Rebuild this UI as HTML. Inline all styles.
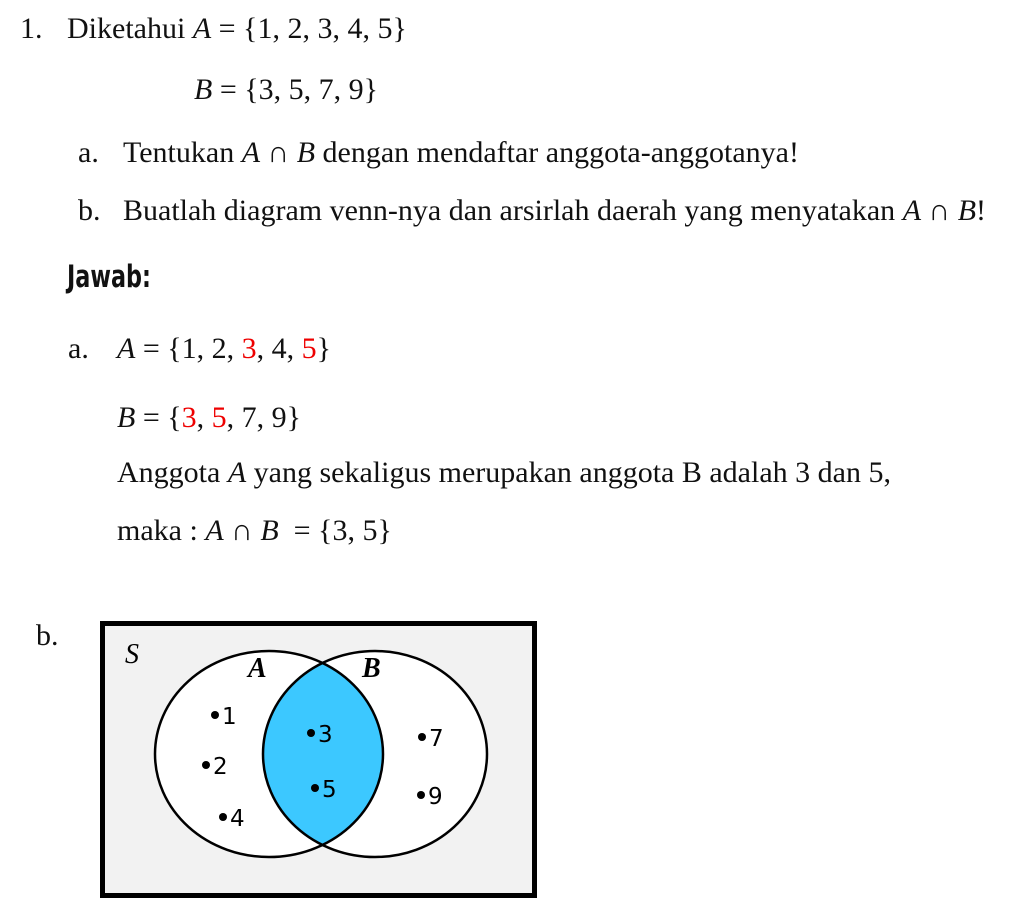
<!DOCTYPE html>
<html><head><meta charset="utf-8"><style>
body{margin:0;width:1024px;height:899px;background:#fff;position:relative;overflow:hidden;font-family:"Liberation Serif",serif;font-size:30px;color:#111}
.t{position:absolute;white-space:nowrap;line-height:30px}
i{font-style:italic}
.r{color:#e00}
.j{font-family:"Liberation Sans Narrow","DejaVu Sans Condensed",sans-serif;font-weight:bold;font-size:31px;transform:scaleX(0.8);transform-origin:left}
</style></head><body>
<div class="t" style="left:20px;top:14px">1.</div>
<div class="t" style="left:67px;top:14px">Diketahui <i>A</i> = {1, 2, 3, 4, 5}</div>
<div class="t" style="left:194px;top:75px"><i>B</i> = {3, 5, 7, 9}</div>
<div class="t" style="left:78px;top:138px">a.</div>
<div class="t" style="left:123px;top:138px">Tentukan <i>A</i> ∩ <i>B</i> dengan mendaftar anggota-anggotanya!</div>
<div class="t" style="left:78px;top:196px">b.</div>
<div class="t" style="left:123px;top:196px">Buatlah diagram venn-nya dan arsirlah daerah yang menyatakan <i>A</i> ∩ <i>B</i>!</div>
<div class="t j" style="left:67px;top:262px">Jawab:</div>
<div class="t" style="left:68px;top:334px">a.</div>
<div class="t" style="left:117px;top:334px"><i>A</i> = {1, 2, <span class="r">3</span>, 4, <span class="r">5</span>}</div>
<div class="t" style="left:117px;top:403px"><i>B</i> = {<span class="r">3</span>, <span class="r">5</span>, 7, 9}</div>
<div class="t" style="left:117px;top:458px">Anggota <i>A</i> yang sekaligus merupakan anggota B adalah 3 dan 5,</div>
<div class="t" style="left:117px;top:516px">maka : <i>A</i> ∩ <i>B</i> &nbsp;= {3, 5}</div>
<div class="t" style="left:36px;top:621px">b.</div>
<svg style="position:absolute;left:0;top:0" width="1024" height="899">
<defs><clipPath id="ca"><ellipse cx="269" cy="754" rx="114" ry="103"/></clipPath></defs>
<rect x="102.5" y="623.5" width="432" height="272" fill="#f2f2f2" stroke="#000" stroke-width="5"/>
<ellipse cx="269" cy="754" rx="114" ry="103" fill="#fff"/>
<ellipse cx="375" cy="754" rx="112" ry="103" fill="#fff"/>
<ellipse cx="375" cy="754" rx="112" ry="103" fill="#3cc8ff" clip-path="url(#ca)"/>
<ellipse cx="269" cy="754" rx="114" ry="103" fill="none" stroke="#000" stroke-width="2.5"/>
<ellipse cx="375" cy="754" rx="112" ry="103" fill="none" stroke="#000" stroke-width="2.5"/>
<g font-family="Liberation Serif" font-style="italic" font-size="28">
<text x="125" y="663">S</text>
<text x="248" y="677" font-weight="bold">A</text>
<text x="362" y="677" font-weight="bold">B</text>
</g>
<g fill="#000"><circle cx="215" cy="715" r="4"/><circle cx="206" cy="765" r="4"/><circle cx="223" cy="817" r="4"/><circle cx="311" cy="733" r="4"/><circle cx="315" cy="788" r="4"/><circle cx="422" cy="737" r="4"/><circle cx="421" cy="795" r="4"/></g>
<g font-family="DejaVu Sans, Liberation Sans, sans-serif" font-size="23">
<text x="222" y="724">1</text><text x="213" y="774">2</text><text x="230" y="826">4</text>
<text x="318" y="742">3</text><text x="322" y="797">5</text>
<text x="429" y="746">7</text><text x="428" y="804">9</text>
</g>
</svg>
</body></html>
